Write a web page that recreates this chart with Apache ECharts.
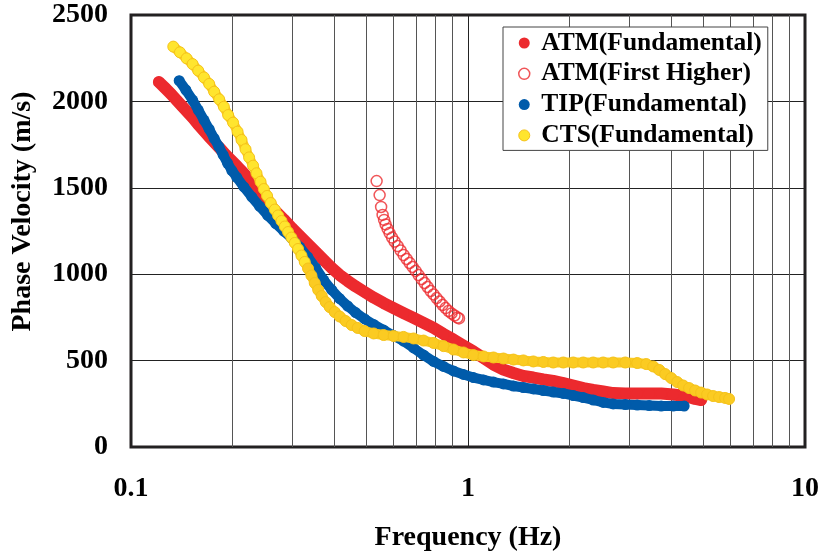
<!DOCTYPE html>
<html>
<head>
<meta charset="utf-8">
<script src="https://cdn.jsdelivr.net/npm/echarts@6/dist/echarts.min.js"></script>
<style>
  html, body { margin: 0; padding: 0; background: #fff; }
  #dispersionChart { width: 822px; height: 559px; }
</style>
</head>
<body>
<div id="dispersionChart"></div>
<script>
// ATM fundamental mode
var atmFundFreq = [0.1210, 0.1261, 0.1314, 0.1364, 0.1416, 0.1470, 0.1527, 0.1585, 0.1646, 0.1708, 0.1774, 0.1842, 0.1912, 0.1985, 0.2061,
  0.2162, 0.2283, 0.2411, 0.2546, 0.2689, 0.2840, 0.3000, 0.3168, 0.3345, 0.3533, 0.3731, 0.3941, 0.4162, 0.4395, 0.4642,
  0.4935, 0.5248, 0.5619, 0.6015, 0.6440, 0.6894, 0.7381, 0.7902, 0.8459, 0.9056, 0.9698, 1.038, 1.112, 1.190, 1.274, 1.364,
  1.460, 1.563, 1.673, 1.791, 1.918, 2.053, 2.198, 2.353, 2.519, 2.697,
  2.929, 3.178, 3.449, 3.744, 4.063, 4.409, 4.721, 4.918];
var atmFundVel = [2112, 2078, 2043, 2008, 1973, 1939, 1904, 1866, 1829, 1794, 1759, 1725, 1690, 1658, 1626,
  1583, 1528, 1470, 1415, 1363, 1317, 1267, 1221, 1175, 1128, 1082, 1036, 995, 961, 929,
  897, 865, 833, 804, 775, 747, 718, 689, 654, 622, 587, 553, 515, 477, 448, 428,
  411, 402, 391, 382, 370, 356, 341, 330, 321, 312,
  310, 310, 310, 310, 304, 295, 278, 272];

// ATM first higher mode
var atmHighFreq = [0.5356, 0.5467, 0.5523, 0.5580, 0.5637, 0.5696, 0.5774, 0.5853, 0.5954, 0.6056, 0.6181, 0.6310, 0.6440, 0.6573, 0.6709, 0.6848,
  0.6989, 0.7134, 0.7281, 0.7432, 0.7586, 0.7743, 0.7903, 0.8067, 0.8234, 0.8404, 0.8577, 0.8754, 0.8935, 0.9120, 0.9309, 0.9404];
var atmHighVel = [1539, 1458, 1389, 1343, 1314, 1288, 1262, 1238, 1212, 1189, 1163, 1137, 1111, 1088, 1065, 1042,
  1019, 995, 972, 949, 926, 903, 883, 862, 842, 822, 804, 787, 773, 761, 749, 744];

// TIP fundamental mode
var tipFreq = [0.1390, 0.1455, 0.1523, 0.1583, 0.1646, 0.1706, 0.1765, 0.1823, 0.1877, 0.1935, 0.1992, 0.2061,
  0.2162, 0.2283, 0.2411, 0.2546, 0.2689, 0.2840, 0.3000, 0.3168, 0.3345, 0.3533, 0.3731, 0.3941, 0.4162, 0.4395, 0.4642,
  0.4935, 0.5248, 0.5619, 0.6015, 0.6440, 0.6894, 0.7381, 0.7902, 0.8459, 0.9056, 0.9698, 1.038, 1.112, 1.190, 1.274, 1.364,
  1.460, 1.563, 1.673, 1.791, 1.918, 2.053, 2.198, 2.353, 2.519, 2.697,
  2.929, 3.178, 3.449, 3.744, 4.063, 4.379];
var tipVel = [2120, 2066, 2008, 1950, 1892, 1839, 1786, 1738, 1690, 1642, 1600, 1560,
  1505, 1447, 1392, 1340, 1293, 1250, 1207, 1157, 1100, 1036, 966, 909, 859, 816, 778,
  741, 709, 677, 645, 613, 573, 532, 495, 466, 440, 420, 402, 388, 376, 365, 353,
  344, 336, 327, 318, 310, 298, 286, 272, 258, 249,
  246, 243, 240, 237, 237, 237];

// CTS fundamental mode
var ctsFreq = [0.1335, 0.1397, 0.1462, 0.1523, 0.1583, 0.1646, 0.1706, 0.1765, 0.1827, 0.1886, 0.1942, 0.2009, 0.2071, 0.2128, 0.2187, 0.2241, 0.2303,
  0.2357, 0.2423, 0.2478, 0.2534, 0.2599, 0.2671, 0.2732, 0.2796, 0.2860, 0.2925, 0.2993, 0.3062, 0.3131, 0.3205, 0.3278, 0.3352, 0.3431,
  0.3509, 0.3594, 0.3681, 0.3783, 0.3887, 0.4022, 0.4162, 0.4336, 0.4517, 0.4705,
  0.4935, 0.5248, 0.5619, 0.6015, 0.6440, 0.6894, 0.7381, 0.7902, 0.8459, 0.9056, 0.9698, 1.038, 1.112, 1.190, 1.274, 1.364,
  1.460, 1.563, 1.673, 1.791, 1.918, 2.053, 2.198, 2.353, 2.519, 2.697,
  2.929, 3.178, 3.380, 3.545, 3.693, 3.847, 4.008, 4.175, 4.350, 4.531, 4.721, 4.918, 5.124, 5.338, 5.561, 5.793, 5.953];
var ctsVel = [2317, 2284, 2249, 2216, 2178, 2139, 2101, 2056, 2012, 1969, 1921, 1877, 1825, 1777, 1723, 1676, 1628,
  1584, 1535, 1493, 1453, 1412, 1374, 1340, 1308, 1276, 1244, 1212, 1181, 1146, 1108, 1071, 1033, 992,
  949, 909, 874, 839, 810, 781, 755, 729, 706, 689,
  671, 657, 648, 642, 637, 628, 616, 602, 584, 564, 547, 532, 524, 518, 512, 506,
  501, 495, 492, 489, 489, 489, 489, 489, 489, 489,
  489, 486, 480, 466, 446, 422, 399, 376, 356, 341, 327, 315, 304, 295, 289, 284, 278];

// minor log grid lines
var minorFreqs = [0.2, 0.3, 0.4, 0.5, 0.6, 0.7, 0.8, 0.9, 2, 3, 4, 5, 6, 7, 8, 9];

var serifFont = "'Liberation Serif', 'Times New Roman', serif";

function pairs(xs, ys) {
  return xs.map(function (x, i) { return [x, ys[i]]; });
}

// the sparse start of the CTS curve shows bright yellow dots, the dense rest a golden band
function ctsData() {
  return ctsFreq.map(function (f, i) {
    var item = {value: [f, ctsVel[i]]};
    if (f < 0.33) item.itemStyle = {color: '#ffe52e'};
    return item;
  });
}

var chartDom = document.getElementById('dispersionChart');
var myChart = echarts.init(chartDom);
var option;

option = {
  animation: false,
  backgroundColor: '#fff',
  grid: {
    left: 131, right: 16, top: 15, bottom: 112,
    show: true,
    borderColor: '#231f20',
    borderWidth: 3
  },
  legend: {
    left: 503,
    top: 27,
    orient: 'vertical',
    backgroundColor: '#fff',
    borderColor: '#444',
    borderWidth: 1,
    padding: [3, 6, 2, 15],
    itemWidth: 24,
    itemHeight: 11,
    itemGap: 4.8,
    textStyle: {fontFamily: serifFont, fontWeight: 'bold', fontSize: 25.5, lineHeight: 25, color: '#000'},
    data: [
      {name: 'ATM(Fundamental)', icon: 'circle', itemStyle: {color: '#ec2a2e'}},
      {name: 'ATM(First Higher)', icon: 'circle', itemStyle: {color: '#fff', borderColor: '#ec2a2e', borderWidth: 1.5}},
      {name: 'TIP(Fundamental)', icon: 'circle', itemStyle: {color: '#005baa'}},
      {name: 'CTS(Fundamental)', icon: 'circle', itemStyle: {color: '#ffe52e', borderColor: '#f5c21a', borderWidth: 1}}
    ]
  },
  xAxis: {
    type: 'log',
    logBase: 10,
    min: 0.1,
    max: 10,
    name: 'Frequency (Hz)',
    nameLocation: 'middle',
    nameGap: 77,
    nameTextStyle: {fontFamily: serifFont, fontWeight: 'bold', fontSize: 28, color: '#000'},
    axisLine: {show: false},
    axisTick: {show: false},
    axisLabel: {fontFamily: serifFont, fontWeight: 'bold', fontSize: 28, color: '#000', margin: 28},
    splitLine: {show: true, lineStyle: {color: '#222', width: 1}}
  },
  yAxis: {
    type: 'value',
    min: 0,
    max: 2500,
    interval: 500,
    name: 'Phase Velocity (m/s)',
    nameLocation: 'middle',
    nameGap: 94,
    nameTextStyle: {fontFamily: serifFont, fontWeight: 'bold', fontSize: 28, color: '#000', padding: [0, 0, 0, 39]},
    axisLine: {show: false},
    axisTick: {show: false},
    axisLabel: {
      fontFamily: serifFont, fontWeight: 'bold', fontSize: 28, color: '#000', margin: 23,
      formatter: function (v) { return String(v); }
    },
    splitLine: {show: true, lineStyle: {color: '#222', width: 1}}
  },
  series: [
    {
      type: 'line',
      z: 1,
      data: [],
      markLine: {
        z: 1,
        silent: true,
        symbol: 'none',
        label: {show: false},
        lineStyle: {color: '#555', width: 1, type: 'solid'},
        data: minorFreqs.map(function (f) { return {xAxis: f}; })
      }
    },
    {
      name: 'ATM(Fundamental)',
      type: 'line',
      z: 2,
      data: pairs(atmFundFreq, atmFundVel),
      symbol: 'circle',
      symbolSize: 11,
      showAllSymbol: true,
      itemStyle: {color: '#ec2a2e'},
      lineStyle: {color: '#ec2a2e', width: 12, cap: 'round', join: 'round'}
    },
    {
      name: 'ATM(First Higher)',
      type: 'scatter',
      z: 3,
      data: pairs(atmHighFreq, atmHighVel),
      symbol: 'circle',
      symbolSize: 11,
      itemStyle: {color: 'rgba(255,255,255,0)', borderColor: '#ec2a2e', borderWidth: 1.5}
    },
    {
      name: 'TIP(Fundamental)',
      type: 'line',
      z: 4,
      data: pairs(tipFreq, tipVel),
      symbol: 'circle',
      symbolSize: 11,
      showAllSymbol: true,
      itemStyle: {color: '#005baa'},
      lineStyle: {color: '#005baa', width: 10, cap: 'round', join: 'round'}
    },
    {
      name: 'CTS(Fundamental)',
      type: 'line',
      z: 5,
      data: ctsData(),
      symbol: 'circle',
      symbolSize: 11,
      showAllSymbol: true,
      itemStyle: {color: '#fbcb22', borderColor: '#f5c21a', borderWidth: 1},
      lineStyle: {color: '#fbcb22', width: 10, cap: 'round', join: 'round'}
    }
  ]
};

option && myChart.setOption(option);
</script>
</body>
</html>
